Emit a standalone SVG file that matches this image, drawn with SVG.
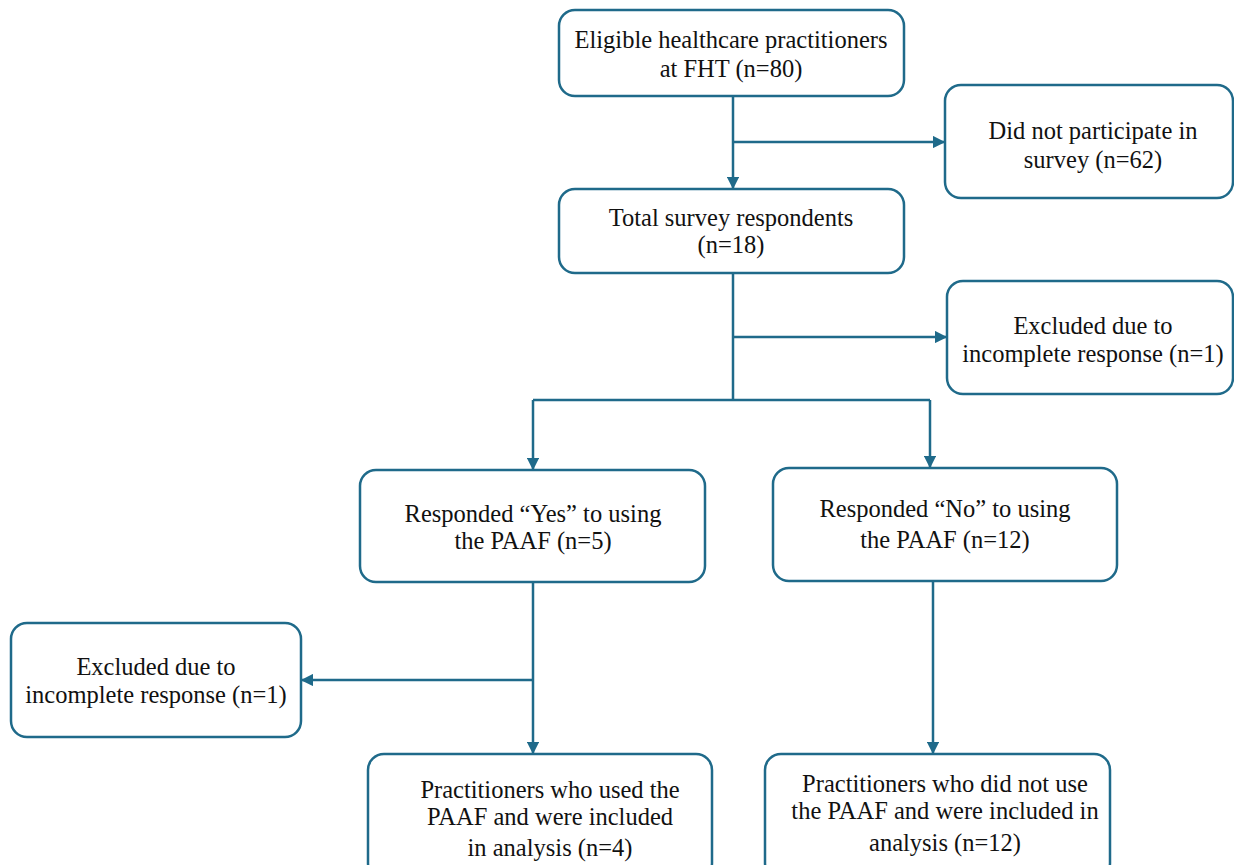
<svg xmlns="http://www.w3.org/2000/svg" width="1234" height="865" viewBox="0 0 1234 865">
<defs>
<style>
.box{fill:#fff;stroke:#1f6a8a;stroke-width:2.5}
.ln{fill:none;stroke:#1f6a8a;stroke-width:2.5}
text{font-family:"Liberation Serif","Times New Roman",serif;font-size:24.5px;fill:#111;text-anchor:middle}
</style>
<marker id="ah" viewBox="0 0 10 10" refX="9" refY="5" markerWidth="5" markerHeight="5" orient="auto" markerUnits="strokeWidth">
<path d="M0,0 L10,5 L0,10 z" fill="#1f6a8a"/>
</marker>
</defs>
<rect width="1234" height="865" fill="#fff"/>
<g id="connectors">
<path class="ln" d="M733,96 V188" marker-end="url(#ah)"/>
<path class="ln" d="M733,142 H944" marker-end="url(#ah)"/>
<path class="ln" d="M733,273 V400"/>
<path class="ln" d="M733,337 H946" marker-end="url(#ah)"/>
<path class="ln" d="M533,400 H930"/>
<path class="ln" d="M533,400 V469" marker-end="url(#ah)"/>
<path class="ln" d="M930,400 V467" marker-end="url(#ah)"/>
<path class="ln" d="M533,582 V753" marker-end="url(#ah)"/>
<path class="ln" d="M533,680 H302" marker-end="url(#ah)"/>
<path class="ln" d="M933,581 V753" marker-end="url(#ah)"/>
</g>
<g id="n1"><rect class="box" x="559" y="10" width="345" height="86" rx="16"/>
<text x="731" y="48">Eligible healthcare practitioners</text><text x="731" y="77">at FHT (n=80)</text></g>
<g id="n2"><rect class="box" x="945" y="85" width="288" height="113" rx="16"/>
<text x="1093" y="139">Did not participate in</text><text x="1093" y="168">survey (n=62)</text></g>
<g id="n3"><rect class="box" x="559" y="189" width="345" height="84" rx="16"/>
<text x="731" y="226">Total survey respondents</text><text x="731" y="253">(n=18)</text></g>
<g id="n4"><rect class="box" x="947" y="281" width="286" height="113" rx="16"/>
<text x="1093" y="334">Excluded due to</text><text x="1093" y="362">incomplete response (n=1)</text></g>
<g id="n5"><rect class="box" x="360" y="470" width="345" height="112" rx="16"/>
<text x="533" y="522">Responded “Yes” to using</text><text x="533" y="549">the PAAF (n=5)</text></g>
<g id="n6"><rect class="box" x="773" y="468" width="344" height="113" rx="16"/>
<text x="945" y="517">Responded “No” to using</text><text x="945" y="548">the PAAF (n=12)</text></g>
<g id="n7"><rect class="box" x="11" y="623" width="290" height="114" rx="16"/>
<text x="156" y="675">Excluded due to</text><text x="156" y="703">incomplete response (n=1)</text></g>
<g id="n8"><rect class="box" x="368" y="754" width="344" height="125" rx="16"/>
<text x="550" y="798">Practitioners who used the</text><text x="550" y="825">PAAF and were included</text><text x="550" y="856">in analysis (n=4)</text></g>
<g id="n9"><rect class="box" x="765" y="754" width="345" height="125" rx="16"/>
<text x="945" y="792">Practitioners who did not use</text><text x="945" y="819">the PAAF and were included in</text><text x="945" y="851">analysis (n=12)</text></g>
</svg>
